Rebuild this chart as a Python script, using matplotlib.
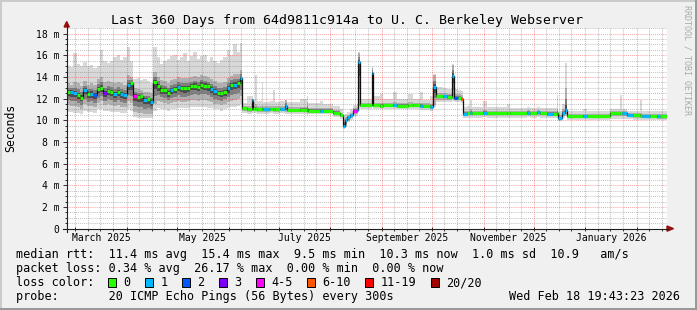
import datetime as dt
import numpy as np
import matplotlib
matplotlib.use("Agg")
import matplotlib.pyplot as plt
from matplotlib.patches import Rectangle, Polygon
from matplotlib.lines import Line2D

# ---------------- data ----------------
start = dt.datetime(2025, 2, 23, 19, 43, 23)
span_days = 360

day = [0, 2, 4, 6, 8, 10, 12, 14, 16, 18, 20, 22, 24, 26, 28, 30, 32, 34, 36, 38,
       40, 42, 44, 46, 48, 50, 52, 54, 56, 58, 60, 62, 64, 66, 68, 70, 72, 74, 76, 78,
       80, 82, 84, 86, 88, 90, 92, 94, 96, 98, 100, 102, 104, 105, 108, 111, 112, 113, 114, 117,
       118, 122, 124, 125, 128, 131, 132, 140, 144, 145, 152, 154, 160, 164, 166, 167, 168, 170, 172, 174,
       175, 176, 183, 184, 188, 190, 196, 198, 205, 208, 212, 214, 218, 220, 221.5, 226, 228, 231, 232.5, 235,
       236.5, 237.5, 240, 242, 243, 250, 252, 264, 266, 276, 278, 282, 284, 288, 292, 294, 295, 297, 299, 300,
       310, 312, 326, 332, 333, 336, 340, 344, 345, 350, 354, 356]

median = [12.64, 12.6, 12.5, 12.3, 12.1, 12.8, 12.4, 12.45, 12.35, 12.9, 13.0, 12.5, 12.7, 12.6, 12.4, 12.6, 12.4, 12.35, 13.25, 13.4,
          12.27, 12.18, 12.2, 11.87, 11.95, 11.7, 13.5, 13.16, 12.8, 12.8, 12.5, 12.8, 12.9, 13.1, 13.0, 12.95, 13.0, 13.15, 13.2, 13.1,
          13.3, 13.2, 13.15, 12.9, 12.7, 12.55, 12.5, 12.6, 12.95, 13.25, 13.3, 13.4, 13.87, 11.1, 11.05, 11.87, 11.04, 11.04, 11.0, 11.0,
          11.0, 11.05, 11.0, 11.0, 11.05, 11.3, 10.95, 10.95, 11.0, 10.9, 10.9, 10.9, 10.7, 10.5, 9.5, 10.0, 10.27, 10.48, 10.9, 10.95,
          15.4, 11.4, 14.4, 11.4, 11.35, 11.4, 11.4, 11.35, 11.4, 11.4, 11.35, 11.3, 11.25, 13.1, 12.2, 12.2, 12.15, 14.1, 12.1, 12.1,
          12.0, 10.6, 10.64, 10.64, 10.64, 10.7, 10.64, 10.64, 10.64, 10.7, 10.64, 10.75, 10.64, 10.6, 10.6, 10.64, 10.18, 10.7, 10.95, 10.4,
          10.4, 10.4, 10.64, 10.64, 10.64, 10.5, 10.45, 10.4, 10.4, 10.4, 10.35, 10.35]

loss = [0, 1, 1, 0, 0, 1, 0, 1, 2, 0, 0, 3, 0, 0, 1, 0, 1, 1, 1, 0,
        4, 0, 0, 1, 0, 1, 0, 0, 0, 0, 0, 1, 0, 1, 0, 0, 0, 0, 0, 0,
        0, 0, 0, 1, 1, 0, 0, 0, 1, 0, 1, 0, 1, 0, 0, 1, 0, 0, 0, 0,
        1, 0, 0, 0, 1, 1, 0, 0, 0, 0, 1, 0, 0, 0, 1, 1, 1, 1, 4, 1,
        1, 0, 1, 0, 0, 0, 1, 0, 0, 0, 1, 0, 1, 1, 0, 1, 0, 1, 2, 0,
        5, 1, 0, 1, 0, 1, 0, 0, 0, 1, 0, 1, 0, 1, 0, 0, 1, 1, 1, 0,
        1, 0, 0, 0, 1, 1, 0, 0, 1, 0, 1, 0]

smoke_top = [15.0, 14.9, 16.2, 15.2, 15.0, 15.4, 15.0, 15.1, 14.8, 15.0, 16.5, 15.5, 15.3, 15.5, 15.8, 16.0, 15.6, 15.8, 16.8, 15.5,
             13.8, 13.9, 13.7, 13.8, 13.6, 13.4, 16.8, 15.8, 15.2, 15.5, 15.7, 15.9, 16.0, 15.6, 15.8, 16.2, 15.5, 15.9, 16.3, 15.7,
             15.9, 16.0, 15.4, 15.8, 15.5, 15.3, 15.6, 15.8, 16.5, 16.0, 17.0, 16.3, 17.1, 11.6, 12.2, 12.2, 11.7, 14.2, 11.8, 13.5,
             11.7, 11.8, 12.8, 11.7, 11.8, 11.9, 11.7, 12.0, 12.2, 11.6, 11.8, 11.5, 11.3, 11.0, 10.5, 10.6, 10.8, 11.0, 11.4, 11.5,
             16.3, 12.0, 14.9, 12.2, 12.4, 12.0, 12.6, 12.0, 12.4, 12.0, 12.6, 11.9, 12.2, 14.3, 13.1, 13.0, 12.9, 15.2, 12.9, 12.8,
             12.7, 11.2, 11.3, 11.9, 11.2, 11.8, 11.2, 11.5, 11.1, 11.2, 11.1, 11.2, 11.1, 11.1, 11.1, 12.3, 10.9, 11.5, 15.3, 10.9,
             11.0, 10.9, 11.0, 12.3, 11.0, 10.9, 10.9, 11.9, 10.9, 10.9, 10.9, 10.9]

smoke_hi = [13.4, 13.3, 13.5, 13.4, 13.2, 13.6, 13.3, 13.4, 13.3, 13.8, 14.0, 13.5, 13.6, 13.5, 13.4, 13.5, 13.4, 13.3, 14.2, 14.0,
            13.0, 12.9, 12.8, 12.6, 12.6, 12.5, 14.5, 14.0, 13.7, 13.6, 13.4, 13.7, 13.8, 14.0, 13.9, 13.9, 13.9, 14.0, 14.1, 14.0,
            14.2, 14.1, 14.0, 13.8, 13.6, 13.4, 13.4, 13.5, 13.9, 14.1, 14.3, 14.3, 14.6, 11.35, 11.3, 12.0, 11.3, 11.5, 11.3, 11.4,
            11.3, 11.3, 11.35, 11.3, 11.3, 11.9, 11.2, 11.25, 11.7, 11.15, 11.15, 11.15, 10.95, 10.7, 10.1, 10.3, 10.5, 10.7, 11.1, 11.2,
            16.2, 11.6, 14.8, 11.6, 11.6, 11.6, 11.65, 11.6, 11.65, 11.6, 11.6, 11.55, 11.5, 14.2, 12.5, 12.5, 12.45, 15.1, 12.4, 12.4,
            12.3, 10.85, 10.9, 11.0, 10.9, 10.95, 10.9, 10.9, 10.9, 10.95, 10.9, 10.95, 10.9, 10.85, 10.85, 11.0, 10.5, 11.0, 13.0, 10.6,
            10.6, 10.6, 10.85, 10.9, 10.85, 10.7, 10.65, 10.7, 10.6, 10.6, 10.55, 10.55]

smoke_lo = [11.4, 11.3, 11.3, 11.2, 11.0, 11.5, 11.3, 11.3, 11.2, 11.6, 11.8, 11.4, 11.5, 11.4, 11.3, 11.4, 11.2, 11.2, 11.8, 11.6,
            10.8, 10.7, 10.7, 10.6, 10.6, 10.6, 11.5, 11.8, 11.7, 11.6, 11.5, 11.6, 11.7, 11.8, 11.7, 11.7, 11.8, 11.9, 11.9, 11.8,
            11.9, 11.9, 11.8, 11.7, 11.5, 11.5, 11.4, 11.5, 11.7, 11.8, 11.9, 12.0, 12.2, 10.9, 10.8, 10.9, 10.85, 10.85, 10.8, 10.8,
            10.8, 10.85, 10.8, 10.8, 10.85, 10.8, 10.75, 10.75, 10.6, 10.7, 10.7, 10.7, 10.5, 10.3, 9.3, 9.5, 9.9, 10.2, 10.6, 10.7,
            11.3, 11.2, 11.4, 11.2, 11.15, 11.2, 11.2, 11.15, 11.2, 11.2, 11.15, 11.1, 11.05, 11.4, 11.9, 11.9, 11.9, 12.0, 11.9, 11.9,
            11.8, 10.4, 10.45, 10.45, 10.45, 10.5, 10.45, 10.45, 10.45, 10.5, 10.45, 10.5, 10.45, 10.4, 10.4, 10.45, 10.0, 10.4, 10.6, 10.2,
            10.2, 10.2, 10.4, 10.4, 10.4, 10.3, 10.25, 10.2, 10.2, 10.2, 10.15, 10.15]

smoke_bot = [10.8, 10.8, 10.7, 10.7, 10.6, 10.9, 10.8, 10.8, 10.7, 11.0, 11.0, 10.9, 10.9, 10.8, 10.8, 10.8, 10.7, 10.7, 11.0, 10.9,
             10.3, 10.2, 10.2, 10.2, 10.2, 10.2, 10.9, 11.1, 11.0, 11.0, 10.9, 11.0, 11.0, 11.1, 11.1, 11.1, 11.1, 11.2, 11.2, 11.2,
             11.2, 11.2, 11.1, 11.1, 11.0, 11.0, 10.9, 11.0, 11.1, 11.2, 11.2, 11.3, 11.5, 10.7, 10.6, 10.7, 10.7, 10.7, 10.6, 10.6,
             10.6, 10.65, 10.6, 10.6, 10.65, 10.6, 10.6, 10.6, 10.5, 10.55, 10.55, 10.55, 10.3, 10.1, 9.2, 9.4, 9.8, 10.0, 10.4, 10.5,
             11.1, 11.0, 11.2, 11.0, 11.0, 11.0, 11.0, 11.0, 11.0, 11.0, 10.95, 10.95, 10.9, 11.2, 11.7, 11.7, 11.7, 11.8, 11.7, 11.7,
             11.6, 10.2, 10.25, 10.25, 10.25, 10.3, 10.25, 10.25, 10.25, 10.3, 10.25, 10.3, 10.25, 10.2, 10.2, 10.25, 9.9, 10.2, 10.4, 10.0,
             10.0, 10.0, 10.1, 10.1, 10.1, 10.1, 10.05, 10.0, 10.0, 10.0, 10.0, 10.0]

loss_labels = ["0", "1", "2", "3", "4-5", "6-10", "11-19", "20/20"]
loss_colors = ["#26ff00", "#00b8ff", "#0059ff", "#7e00ff", "#ff00ff", "#ff5500", "#ff0000", "#a10000"]

rtt_avg, rtt_max, rtt_min, rtt_now, rtt_sd, rtt_ams = 11.4, 15.4, 9.5, 10.3, 1.0, 10.9
loss_avg, loss_max, loss_min, loss_now = 0.34, 26.17, 0.00, 0.00
title = "Last 360 Days from 64d9811c914a to U. C. Berkeley Webserver"
probe_text = "20 ICMP Echo Pings (56 Bytes) every 300s"
stamp = "Wed Feb 18 19:43:23 2026"

y_major = [0, 2, 4, 6, 8, 10, 12, 14, 16, 18]

assert len(day) == len(median) == len(loss) == len(smoke_top) == len(smoke_hi) == len(smoke_lo) == len(smoke_bot)

# ---------------- figure ----------------
W, H = 697, 310
MONO = "DejaVu Sans Mono"
fig = plt.figure(figsize=(W / 100, H / 100), dpi=100, facecolor="#f0f0f0")

def fx(px):
    return px / W

def fy(py):
    return 1 - py / H

ax_l, ax_r, ax_t, ax_b = 66.7, 666.7, 28.2, 228.6
ymax = 18.5
ax = fig.add_axes([fx(ax_l), fy(ax_b), (ax_r - ax_l) / W, (ax_b - ax_t) / H])
ax.set_facecolor("white")
ax.set_xlim(0, span_days)
ax.set_ylim(0, ymax)
for s in ax.spines.values():
    s.set_visible(False)

# smoke
x = np.append(np.array(day, float), span_days)
med = np.array(median)
hi = np.array(smoke_hi)
lo = np.array(smoke_lo)
def ext(a):
    a = np.asarray(a, float)
    return np.append(a, a[-1])
bands = [
    (np.array(smoke_bot), np.array(smoke_top), "#d8d8d8"),
    (lo, hi, "#b0b0b0"),
    (med - (med - lo) * 0.62, med + (hi - med) * 0.5, "#808080"),
    (med - (med - lo) * 0.32, med + (hi - med) * 0.22, "#4a4a4a"),
]
for b1, b2, c in bands:
    ax.fill_between(x, ext(b1), ext(b2), step="post", color=c, lw=0, zorder=1)

# grid
month_days = []
m_y, m_m = 2025, 3
while True:
    d = (dt.datetime(m_y, m_m, 1) - start).total_seconds() / 86400
    if d > span_days:
        break
    month_days.append((d, m_y, m_m))
    m_m += 1
    if m_m > 12:
        m_m, m_y = 1, m_y + 1
minor_days = []
for d, yy, mm in [((dt.datetime(2025, 2, 1) - start).total_seconds() / 86400, 2025, 2)] + month_days:
    for off in (7.5, 15.0, 22.5):
        if 0 < d + off < span_days:
            minor_days.append(d + off)

gray = (0.4, 0.4, 0.4, 0.38)
red = (1.0, 0.0, 0.0, 0.35)
dots = (0, (1, 1))
for v in np.arange(0.5, ymax + 0.01, 0.5):
    if abs(v / 2 - round(v / 2)) > 1e-6:
        ax.axhline(v, color=gray, lw=0.75, ls=dots, zorder=2)
for d in minor_days:
    ax.axvline(d, color=gray, lw=0.75, ls=dots, zorder=2)
for v in y_major[1:]:
    ax.axhline(v, color=red, lw=0.75, ls=dots, zorder=2)
for d, _, _ in month_days:
    ax.axvline(d, color=red, lw=0.75, ls=dots, zorder=2)

# median
ax.step(x, ext(med), where="post", color="#101010", lw=0.9, zorder=3)
ax.hlines(med, x[:-1], x[1:], colors=[loss_colors[k] for k in loss], lw=2.3, zorder=4)

# ticks
ax.set_yticks(y_major)
ax.set_yticklabels(["0" if v == 0 else f"{v} m" for v in y_major], family=MONO, fontsize=7)
ax.set_yticks(np.arange(0.5, ymax, 0.5), minor=True)
ax.set_xticks([d for d, _, _ in month_days])
ax.set_xticklabels([])
ax.set_xticks(minor_days, minor=True)
ax.tick_params(axis="y", which="major", direction="out", length=3, width=0.7, color="#303030", pad=2.3)
ax.tick_params(axis="y", which="minor", direction="out", length=1.5, width=0.7, color="#303030")
ax.tick_params(axis="x", which="major", direction="inout", length=3, width=0.7, color="#303030")
ax.tick_params(axis="x", which="minor", direction="out", length=1.5, width=0.7, color="#303030")

month_names = ["January", "February", "March", "April", "May", "June", "July",
               "August", "September", "October", "November", "December"]
for i, (d, yy, mm) in enumerate(month_days):
    if i % 2 == 0:
        nxt = month_days[i + 1][0] if i + 1 < len(month_days) else d + 30
        ax.text((d + nxt) / 2, -(241 - ax_b) / (ax_b - ax_t), f"{month_names[mm - 1]} {yy}",
                transform=ax.get_xaxis_transform(), ha="center", va="baseline",
                family=MONO, fontsize=7, color="black")

# axis lines with arrows
axis_c = "#202020"
arrow_c = "#9b1010"
fig.add_artist(Line2D([fx(62.5), fx(668)], [fy(ax_b), fy(ax_b)], color=axis_c, lw=0.8))
fig.add_artist(Line2D([fx(ax_l), fx(ax_l)], [fy(231.5), fy(26)], color=axis_c, lw=0.8))
fig.add_artist(Polygon([[fx(667), fy(ax_b - 2.6)], [fx(673.5), fy(ax_b)], [fx(667), fy(ax_b + 2.6)]],
                       closed=True, color=arrow_c, transform=fig.transFigure))
fig.add_artist(Polygon([[fx(ax_l - 2.6), fy(27)], [fx(ax_l), fy(21.5)], [fx(ax_l + 2.6), fy(27)]],
                       closed=True, color=arrow_c, transform=fig.transFigure))

# texts
fig.text(fx(347), fy(24), title, ha="center", va="baseline", family=MONO, fontsize=9.5)
fig.text(fx(11), fy((ax_t + ax_b) / 2), "Seconds", rotation=90, ha="center", va="center",
         family=MONO, fontsize=8.3)
fig.text(fx(687.5), fy(5), "RRDTOOL / TOBI OETIKER", rotation=270, ha="center", va="top",
         family=MONO, fontsize=6, color="#aaaaaa")

LFS = 8.5
cw = 0.602 * LFS * 100 / 72
lx = 16
line1 = (f"median rtt:  {rtt_avg:.1f} ms avg  {rtt_max:.1f} ms max  {rtt_min:.1f} ms min  "
         f"{rtt_now:.1f} ms now  {rtt_sd:.1f} ms sd  {rtt_ams:.1f}   am/s")
line2 = (f"packet loss: {loss_avg:.2f} % avg  {loss_max:.2f} % max  {loss_min:.2f} % min  "
         f"{loss_now:.2f} % now")
fig.text(fx(lx), fy(258.3), line1, ha="left", va="baseline", family=MONO, fontsize=LFS)
fig.text(fx(lx), fy(272.3), line2, ha="left", va="baseline", family=MONO, fontsize=LFS)
fig.text(fx(lx), fy(286.3), "loss color:", ha="left", va="baseline", family=MONO, fontsize=LFS)
fig.text(fx(lx), fy(300.3), "probe:       " + probe_text, ha="left", va="baseline", family=MONO, fontsize=LFS)
fig.text(fx(680), fy(300.3), stamp, ha="right", va="baseline", family=MONO, fontsize=LFS)

bx = lx + 13 * cw
for lab, col in zip(loss_labels, loss_colors):
    fig.add_artist(Rectangle((fx(bx), fy(286.5)), 8 / W, 8.5 / H, transform=fig.transFigure,
                             facecolor=col, edgecolor="black", lw=0.7))
    tx = bx + 15
    fig.text(fx(tx), fy(286.3), lab, ha="left", va="baseline", family=MONO, fontsize=LFS)
    bx = tx + len(lab) * cw + 14.8

# 3D border
fig.add_artist(Rectangle((0, fy(2)), 1, 2 / H, transform=fig.transFigure, color="#cbcbcb", lw=0))
fig.add_artist(Rectangle((0, 0), 2 / W, 1, transform=fig.transFigure, color="#cbcbcb", lw=0))
fig.add_artist(Rectangle((0, 0), 1, 2.5 / H, transform=fig.transFigure, color="#999999", lw=0))
fig.add_artist(Rectangle((1 - 2.5 / W, 0), 2.5 / W, 1, transform=fig.transFigure, color="#999999", lw=0))

fig.savefig("out.png", dpi=100, facecolor=fig.get_facecolor())
